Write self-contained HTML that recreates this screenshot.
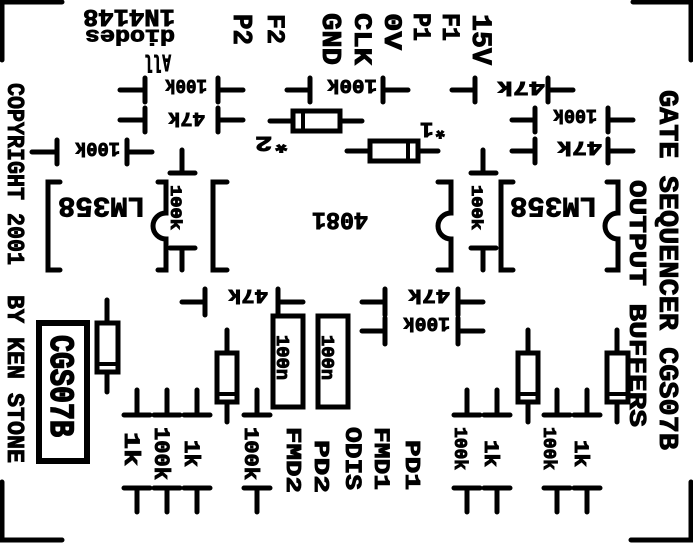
<!DOCTYPE html>
<html><head><meta charset="utf-8"><style>
html,body{margin:0;padding:0;background:#fff;}
svg{display:block;}
text{font-family:"Liberation Mono","DejaVu Sans Mono",monospace;font-weight:bold;fill:#000;stroke:#000;stroke-width:0.9px;}
</style></head><body>
<svg width="693" height="543" viewBox="0 0 693 543">
<g fill="none" stroke="#000" stroke-width="5" stroke-linecap="round">
<path d="M2 60V2H62 M633 2H691V60 M2 482V540H62 M631 540H691V482"/>
<path d="
M120 90H145M145 78V102 M218 78V102M218 90H243
M120 120H145M145 108V132 M218 108V132M218 120H243
M32 152H57M57 140V164 M127 140V164M127 152H152
M287 90H310M310 78V102 M383 78V102M383 90H408
M452 90H475M475 78V102 M548 78V102M548 90H573
M512 120H535M535 108V132 M608 108V132M608 120H633
M512 151H535M535 139V163 M608 139V163M608 151H633
M182 302H205M205 289V315 M278 289V315M278 302H303
M362 302H385M385 289V315 M458 289V315M458 302H483
M362 331H385M385 318V344 M458 318V344M458 331H483"/>
<path d="
M182 150V173M170 173H195 M170 248H195M182 248V270
M483 150V173M471 173H496 M471 248H496M483 248V270
M137 390V415M124 415H150 M124 488H150M137 488V512
M167 390V415M154 415H180 M154 488H180M167 488V512
M197 390V415M184 415H210 M184 488H210M197 488V512
M257 390V415M244 415H270 M244 488H270M257 488V512
M467 390V415M454 415H480 M454 488H480M467 488V512
M497 390V415M484 415H510 M484 488H510M497 488V512
M557 390V415M544 415H570 M544 488H570M557 488V512
M587 390V415M574 415H600 M574 488H600M587 488V512"/>
<path d="M60 182H48V270H60 M158 182H166V213A13 13 0 0 0 166 239V270H158"/>
<path d="M227 182H213V270H227 M438 182H451V213A13 13 0 0 0 451 239V270H438"/>
<path d="M513 182H501V270H513 M607 182H618V213A13 13 0 0 0 618 239V270H607"/>
<g><path d="M270 121H293M340 121H362"/><rect x="293" y="111" width="47" height="20"/><path d="M303 111V131" stroke-width="4"/></g>
<g><path d="M347 151H370M418 151H438"/><rect x="370" y="141" width="48" height="20"/><path d="M408 141V161" stroke-width="4"/></g>
<g><path d="M107 300V323M107 372V392"/><rect x="97" y="323" width="21" height="49"/><path d="M97 364H118" stroke-width="4"/></g>
<g><path d="M227 330V353M227 402V422"/><rect x="217" y="353" width="20" height="49"/><path d="M217 394H237" stroke-width="4"/></g>
<g><path d="M528 330V353M528 402V422"/><rect x="518" y="353" width="20" height="49"/><path d="M518 394H538" stroke-width="4"/></g>
<g><path d="M617 330V353M617 402V422"/><rect x="607" y="353" width="21" height="49"/><path d="M607 394H628" stroke-width="4"/></g>
<rect x="273" y="316" width="30" height="91"/>
<rect x="318" y="316" width="30" height="91"/>
<rect x="39" y="323" width="48" height="138" stroke-width="6"/>
</g>

<g>
<text transform="translate(473,14) rotate(90)" font-size="28" textLength="51" lengthAdjust="spacingAndGlyphs">15V</text>
<text transform="translate(443,13) rotate(90)" font-size="25" textLength="28" lengthAdjust="spacingAndGlyphs">F1</text>
<text transform="translate(414,13) rotate(90)" font-size="25" textLength="28" lengthAdjust="spacingAndGlyphs">P1</text>
<text transform="translate(385,13) rotate(90)" font-size="25" textLength="37" lengthAdjust="spacingAndGlyphs">0V</text>
<text transform="translate(355,13) rotate(90)" font-size="25" textLength="52" lengthAdjust="spacingAndGlyphs">CLK</text>
<text transform="translate(323,13) rotate(90)" font-size="27" textLength="52" lengthAdjust="spacingAndGlyphs">GND</text>
<text transform="translate(268,14) rotate(90)" font-size="25" textLength="30" lengthAdjust="spacingAndGlyphs">F2</text>
<text transform="translate(234,14) rotate(90)" font-size="27" textLength="31" lengthAdjust="spacingAndGlyphs">P2</text>
<text transform="translate(8,83) rotate(90)" font-size="24" textLength="182" lengthAdjust="spacingAndGlyphs">COPYRIGHT 2001</text>
<text transform="translate(8,295) rotate(90)" font-size="24" textLength="168" lengthAdjust="spacingAndGlyphs">BY KEN STONE</text>
<text transform="translate(660,90) rotate(90)" font-size="27" textLength="360" lengthAdjust="spacingAndGlyphs">GATE SEQUENCER CGS07B</text>
<text transform="translate(630,180) rotate(90)" font-size="24" textLength="247" lengthAdjust="spacingAndGlyphs">OUTPUT BUFFERS</text>
<text transform="translate(171,185) rotate(90)" font-size="16" textLength="45" lengthAdjust="spacingAndGlyphs">100k</text>
<text transform="translate(472,185) rotate(90)" font-size="16" textLength="45" lengthAdjust="spacingAndGlyphs">100k</text>
<text transform="translate(277,335) rotate(90)" font-size="18" textLength="45" lengthAdjust="spacingAndGlyphs">100n</text>
<text transform="translate(322,335) rotate(90)" font-size="18" textLength="45" lengthAdjust="spacingAndGlyphs">100n</text>
<text transform="translate(51,335) rotate(90)" font-size="34" textLength="102" lengthAdjust="spacingAndGlyphs" style="font-weight:900;stroke-width:1.5px">CGS07B</text>
<text transform="translate(125,432) rotate(90)" font-size="22" textLength="34" lengthAdjust="spacingAndGlyphs">1k</text>
<text transform="translate(155,427) rotate(90)" font-size="22" textLength="53" lengthAdjust="spacingAndGlyphs">100k</text>
<text transform="translate(185,440) rotate(90)" font-size="22" textLength="27" lengthAdjust="spacingAndGlyphs">1k</text>
<text transform="translate(245,427) rotate(90)" font-size="20" textLength="53" lengthAdjust="spacingAndGlyphs">100k</text>
<text transform="translate(287,427) rotate(90)" font-size="21" textLength="66" lengthAdjust="spacingAndGlyphs">FMD2</text>
<text transform="translate(315,440) rotate(90)" font-size="21" textLength="53" lengthAdjust="spacingAndGlyphs">PD2</text>
<text transform="translate(346,427) rotate(90)" font-size="23" textLength="63" lengthAdjust="spacingAndGlyphs">ODIS</text>
<text transform="translate(375,427) rotate(90)" font-size="22" textLength="63" lengthAdjust="spacingAndGlyphs">FMD1</text>
<text transform="translate(406,440) rotate(90)" font-size="21" textLength="50" lengthAdjust="spacingAndGlyphs">PD1</text>
<text transform="translate(455,427) rotate(90)" font-size="18" textLength="43" lengthAdjust="spacingAndGlyphs">100k</text>
<text transform="translate(485,440) rotate(90)" font-size="20" textLength="27" lengthAdjust="spacingAndGlyphs">1k</text>
<text transform="translate(544,427) rotate(90)" font-size="18" textLength="43" lengthAdjust="spacingAndGlyphs">100k</text>
<text transform="translate(575,440) rotate(90)" font-size="20" textLength="27" lengthAdjust="spacingAndGlyphs">1k</text>
</g>

<g>
<text transform="translate(175,10) rotate(180)" font-size="24" textLength="92" lengthAdjust="spacingAndGlyphs">1N4148</text>
<text transform="translate(175,30) rotate(180)" font-size="21" textLength="90" lengthAdjust="spacingAndGlyphs">diodes</text>
<text transform="translate(171,55) rotate(180)" font-size="24" textLength="26" lengthAdjust="spacingAndGlyphs">All</text>
<text transform="translate(207,80) rotate(180)" font-size="19" textLength="42" lengthAdjust="spacingAndGlyphs">100k</text>
<text transform="translate(205,113) rotate(180)" font-size="19" textLength="37" lengthAdjust="spacingAndGlyphs">47k</text>
<text transform="translate(120,143) rotate(180)" font-size="19" textLength="45" lengthAdjust="spacingAndGlyphs">100k</text>
<text transform="translate(290,137) rotate(180)" font-size="21" textLength="35" lengthAdjust="spacingAndGlyphs">*2</text>
<text transform="translate(145,198) rotate(180)" font-size="28" textLength="87" lengthAdjust="spacingAndGlyphs">LM358</text>
<text transform="translate(368,213) rotate(180)" font-size="24" textLength="56" lengthAdjust="spacingAndGlyphs">4081</text>
<text transform="translate(377,80) rotate(180)" font-size="19" textLength="50" lengthAdjust="spacingAndGlyphs">100k</text>
<text transform="translate(447,123) rotate(180)" font-size="21" textLength="27" lengthAdjust="spacingAndGlyphs">*1</text>
<text transform="translate(545,82) rotate(180)" font-size="19" textLength="48" lengthAdjust="spacingAndGlyphs">47k</text>
<text transform="translate(597,110) rotate(180)" font-size="19" textLength="44" lengthAdjust="spacingAndGlyphs">100k</text>
<text transform="translate(602,142) rotate(180)" font-size="19" textLength="45" lengthAdjust="spacingAndGlyphs">47k</text>
<text transform="translate(597,198) rotate(180)" font-size="28" textLength="87" lengthAdjust="spacingAndGlyphs">LM358</text>
<text transform="translate(268,290) rotate(180)" font-size="19" textLength="40" lengthAdjust="spacingAndGlyphs">47k</text>
<text transform="translate(450,290) rotate(180)" font-size="19" textLength="42" lengthAdjust="spacingAndGlyphs">47k</text>
<text transform="translate(450,318) rotate(180)" font-size="19" textLength="47" lengthAdjust="spacingAndGlyphs">100k</text>
</g>
</svg>
</body></html>
